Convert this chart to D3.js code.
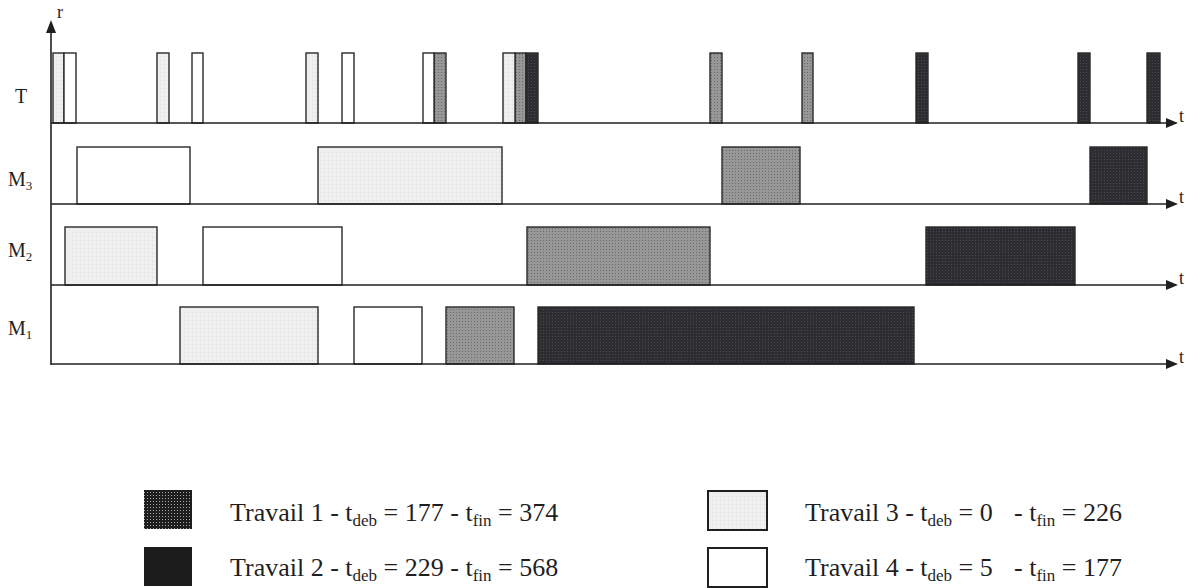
<!DOCTYPE html>
<html>
<head>
<meta charset="utf-8">
<script src="https://cdn.jsdelivr.net/npm/d3@7"></script>
<style>
  body { margin: 0; background: #fff; }
  svg { font-family: "Liberation Serif", "DejaVu Serif", serif; }
</style>
</head>
<body>
<div id="chart"></div>
<script>
// rows of the diagram (transport + 3 machines), top to bottom
const rows = ["T", "M3", "M2", "M1"];

// jobs and their start / end times from the legend
const jobs = ["Travail 1", "Travail 2", "Travail 3", "Travail 4"];
const jobStart = [177, 229, 0, 5];
const jobEnd = [374, 568, 226, 177];

// occupation intervals per job, in diagram time units [row, start, end]
const travail1 = [["T", 190.5, 196.5], ["M1", 196.5, 230.5], ["T", 231, 236.5],
                  ["M2", 237, 328.5], ["T", 328.5, 334.5], ["M3", 334.5, 373.5], ["T", 374.5, 380]];
const travail2 = [["T", 236.5, 242.5], ["M1", 242.5, 430.5], ["T", 431.5, 437.5],
                  ["M2", 436.5, 511], ["T", 512.5, 518.5], ["M3", 518.5, 547], ["T", 547, 553.5]];
const travail3 = [["T", 0, 5.5], ["M2", 6, 52], ["T", 52, 58], ["M1", 63.5, 132.5],
                  ["T", 126.5, 132.5], ["M3", 132.5, 224.5], ["T", 225, 231]];
const travail4 = [["T", 5.5, 11.5], ["M3", 12, 68.5], ["T", 69.5, 75], ["M2", 75, 144.5],
                  ["T", 144.5, 150.5], ["M1", 150.5, 184.5], ["T", 185, 190.5]];

const width = 1188, height = 588;

const svg = d3.select("#chart").append("svg")
    .attr("width", width)
    .attr("height", height);

const defs = svg.append("defs");

// dotted textures, like the scanned print
function dotPattern(id, base, dot, size) {
    const p = defs.append("pattern")
        .attr("id", id)
        .attr("width", size).attr("height", size)
        .attr("patternUnits", "userSpaceOnUse");
    p.append("rect").attr("width", size).attr("height", size).attr("fill", base);
    p.append("rect").attr("x", 0).attr("y", 0).attr("width", 1).attr("height", 1).attr("fill", dot);
    return "url(#" + id + ")";
}
const fill1 = dotPattern("p1", "#979797", "#6a6a6a", 3);
const fill2 = dotPattern("p2", "#2c2c31", "#4a4a50", 3);
const fill3 = dotPattern("p3", "#efefef", "#dcdcdc", 4);
const fillLeg1 = dotPattern("pl1", "#1e1e1e", "#a8a8a8", 3);

const jobFill = [fill1, fill2, fill3, "#ffffff"];
const jobLegendFill = [fillLeg1, "#1c1c1c", fill3, "#ffffff"];
const jobSegments = [travail1, travail2, travail3, travail4];

// time scale
const x = d3.scaleLinear().domain([0, 565]).range([53, 1183]);

// row layout: top of the boxes and baseline of each row
const rowBox = {
    T: [53, 123],
    M3: [147, 204],
    M2: [227, 285],
    M1: [307, 364]
};

const axisX = 51;
const lineEnd = 1178;
const ink = "#1f1f1f";

// boxes
jobSegments.forEach((segs, j) => {
    svg.append("g").selectAll("rect")
        .data(segs)
        .enter()
        .append("rect")
        .attr("x", d => x(d[1]))
        .attr("y", d => rowBox[d[0]][0])
        .attr("width", d => x(d[2]) - x(d[1]))
        .attr("height", d => rowBox[d[0]][1] - rowBox[d[0]][0])
        .attr("fill", jobFill[j])
        .attr("stroke", "#2a2a2a")
        .attr("stroke-width", 1.4);
});

// baselines with arrows
const base = svg.append("g");
rows.forEach(r => {
    const y = rowBox[r][1];
    base.append("line")
        .attr("x1", axisX).attr("x2", lineEnd - 8)
        .attr("y1", y).attr("y2", y)
        .attr("stroke", ink).attr("stroke-width", 1.6);
    base.append("path")
        .attr("d", `M${lineEnd - 12},${y - 5} L${lineEnd},${y} L${lineEnd - 12},${y + 5} Z`)
        .attr("fill", ink);
    base.append("text")
        .attr("x", lineEnd + 1).attr("y", y - 1)
        .attr("font-size", 18)
        .attr("fill", ink)
        .text("t");
});

// vertical axis
base.append("line")
    .attr("x1", axisX).attr("x2", axisX)
    .attr("y1", 365).attr("y2", 30)
    .attr("stroke", ink).attr("stroke-width", 1.6);
base.append("path")
    .attr("d", `M${axisX - 5},${33} L${axisX},${20} L${axisX + 5},${33} Z`)
    .attr("fill", ink);
base.append("text")
    .attr("x", 57).attr("y", 18)
    .attr("font-size", 18)
    .attr("fill", ink)
    .text("r");

// row labels
const labelY = { T: 103, M3: 186, M2: 257, M1: 335 };
rows.forEach(r => {
    const t = svg.append("text")
        .attr("x", r === "T" ? 15 : 8)
        .attr("y", labelY[r])
        .attr("font-size", 20)
        .attr("fill", ink);
    t.append("tspan").text(r[0]);
    if (r.length > 1) {
        t.append("tspan").attr("font-size", 13).attr("dy", 4).text(r.slice(1));
    }
});

// legend
const legendX = [144, 144, 708, 708];
const legendY = [490, 547, 491, 548];
const legendW = [48, 48, 59, 59];
const legendTextX = [230, 230, 805, 805];
const legendTextY = [521, 576, 521, 576];
const finX = [null, null, 1014, 1014];

jobs.forEach((name, j) => {
    const bordered = j >= 2;
    svg.append("rect")
        .attr("x", legendX[j])
        .attr("y", legendY[j])
        .attr("width", legendW[j])
        .attr("height", 39)
        .attr("fill", jobLegendFill[j])
        .attr("stroke", bordered ? "#1f1f1f" : "none")
        .attr("stroke-width", 2);

    const t = svg.append("text")
        .attr("x", legendTextX[j])
        .attr("y", legendTextY[j])
        .attr("font-size", 26)
        .attr("fill", ink);
    t.append("tspan").text(name + " - t");
    t.append("tspan").attr("font-size", 17).attr("dy", 5).text("deb");
    t.append("tspan").attr("dy", -5).text(" = " + jobStart[j] + (finX[j] ? "" : " - t"));
    if (finX[j]) {
        t.append("tspan").attr("x", finX[j]).text("- t");
    }
    t.append("tspan").attr("font-size", 17).attr("dy", 5).text("fin");
    t.append("tspan").attr("dy", -5).text(" = " + jobEnd[j]);
});
</script>
</body>
</html>
